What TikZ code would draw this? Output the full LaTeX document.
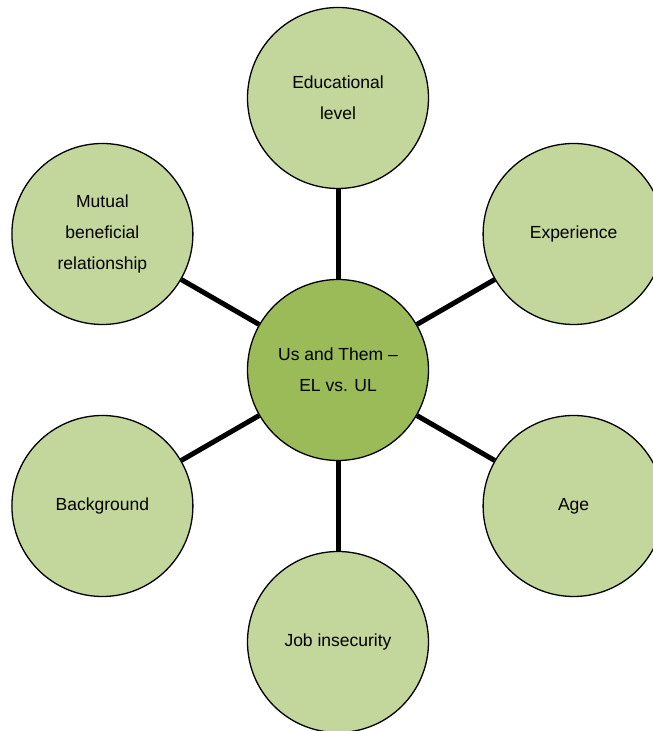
\documentclass[tikz,border=0pt]{standalone}
\usepackage{fontspec}
\setmainfont{Liberation Sans}
\definecolor{outerfill}{HTML}{C3D69B}
\definecolor{centerfill}{HTML}{9BBB59}
\begin{document}
\begin{tikzpicture}[x=1pt,y=1pt,
  bubble/.style={circle, draw=black, line width=1.3pt, minimum size=181pt, inner sep=0pt, align=center, font=\fontsize{17.5}{31}\selectfont},
  outer/.style={bubble, fill=outerfill},
  hub/.style={bubble, fill=centerfill},
  link/.style={line width=5pt, draw=black}]
\useasboundingbox (0,0) rectangle (653,731);
\node[hub] (c) at (338,361) {Us and Them –\\EL vs. UL};
\node[outer] (edu) at (338,633) {Educational\\level};
\node[outer] (exp) at (573.6,497) {Experience};
\node[outer] (age) at (573.6,225) {Age};
\node[outer] (job) at (338,89) {Job insecurity};
\node[outer] (bg) at (102.4,225) {Background};
\node[outer] (mut) at (102.4,497) {Mutual\\beneficial\\relationship};
\foreach \n in {edu,exp,age,job,bg,mut}
  \draw[link] (c) -- (\n);
\end{tikzpicture}
\end{document}
